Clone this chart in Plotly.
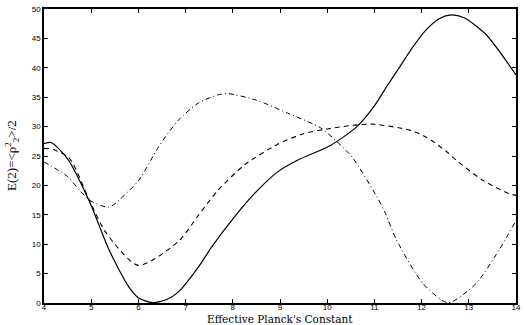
import plotly.graph_objects as go

solid_x = [4.0, 4.15, 4.5, 4.96, 5.38, 5.8, 6.0, 6.3, 6.6, 6.85, 7.27, 7.55, 8.04, 8.53, 8.95, 9.4, 10.07, 10.63, 10.98, 11.26, 11.54, 11.82, 12.1, 12.38, 12.63, 12.9, 13.36, 14.0]
solid_y = [27.1, 27.3, 24.5, 17.3, 9.0, 2.7, 0.9, 0.05, 0.6, 1.9, 6.1, 9.5, 14.7, 19.2, 22.3, 24.4, 26.8, 30.0, 33.3, 36.8, 40.2, 43.6, 46.5, 48.4, 49.0, 48.5, 45.7, 38.8]

dashed_x = [4.0, 4.2, 4.54, 4.96, 5.31, 6.0, 6.85, 7.27, 7.69, 8.25, 8.95, 9.5, 10.0, 10.63, 11.0, 11.75, 12.1, 12.52, 12.73, 13.29, 13.85, 14.0]
dashed_y = [26.3, 26.1, 24.6, 17.5, 12.0, 6.4, 10.5, 14.9, 19.2, 23.5, 27.0, 28.8, 29.6, 30.3, 30.4, 29.4, 28.2, 25.8, 24.3, 20.9, 18.6, 18.3]

dashdot_x = [4.0, 4.5, 4.75, 5.0, 5.38, 5.59, 6.01, 6.43, 6.85, 7.27, 7.69, 7.9, 8.5, 9.16, 9.86, 10.21, 10.53, 11.05, 11.22, 11.47, 12.03, 12.56, 13.15, 13.64, 14.0]
dashdot_y = [24.0, 21.5, 19.2, 17.3, 16.3, 17.5, 20.9, 26.6, 31.1, 34.0, 35.4, 35.6, 34.5, 32.3, 29.8, 27.4, 24.8, 18.1, 15.5, 10.7, 3.3, 0.05, 3.3, 9.0, 14.0]

x_ticks = [4, 5, 6, 7, 8, 9, 10, 11, 12, 13, 14]
y_ticks = [0, 5, 10, 15, 20, 25, 30, 35, 40, 45, 50]

fig = go.Figure()
fig.add_trace(go.Scatter(x=solid_x, y=solid_y, mode="lines", line=dict(color="black", width=1.2, shape="spline", smoothing=0.7)))
fig.add_trace(go.Scatter(x=dashed_x, y=dashed_y, mode="lines", line=dict(color="black", width=1.1, dash="5px,4px", shape="spline", smoothing=0.7)))
fig.add_trace(go.Scatter(x=dashdot_x, y=dashdot_y, mode="lines", line=dict(color="black", width=1.0, dash="5px,3px,1px,3px", shape="spline", smoothing=0.7)))

axis_common = dict(
    showgrid=False, zeroline=False, showline=True, linecolor="black", linewidth=1.5,
    mirror="ticks", ticks="inside", ticklen=4, tickcolor="black", tickwidth=1,
    tickfont=dict(family="Liberation Sans, Arial", size=8, color="black"),
)
fig.update_xaxes(range=[4, 14], tickvals=x_ticks, ticktext=[str(v) for v in x_ticks],
                 ticklabelstandoff=-4, **axis_common)
fig.update_yaxes(range=[0, 50], tickvals=y_ticks, ticktext=[str(v) for v in y_ticks], **axis_common)

fig.update_layout(
    width=526, height=325, showlegend=False,
    margin=dict(l=44, r=5, t=9, b=22),
    plot_bgcolor="white", paper_bgcolor="white",
    annotations=[
        dict(text="Effective Planck's Constant", xref="paper", yref="paper", x=0.5, y=0,
             yshift=-16, xanchor="center", yanchor="middle", showarrow=False,
             font=dict(family="DejaVu Serif", size=10.5, color="black")),
        dict(text="E(2)=&lt;ρ<sup>2</sup><sub>2</sub>&gt;/2", xref="paper", yref="paper", x=0, y=0.5,
             xshift=-32, xanchor="center", yanchor="middle", showarrow=False, textangle=-90,
             font=dict(family="Liberation Serif, Times New Roman", size=13, color="black")),
    ],
)

fig.write_html("out.html")
